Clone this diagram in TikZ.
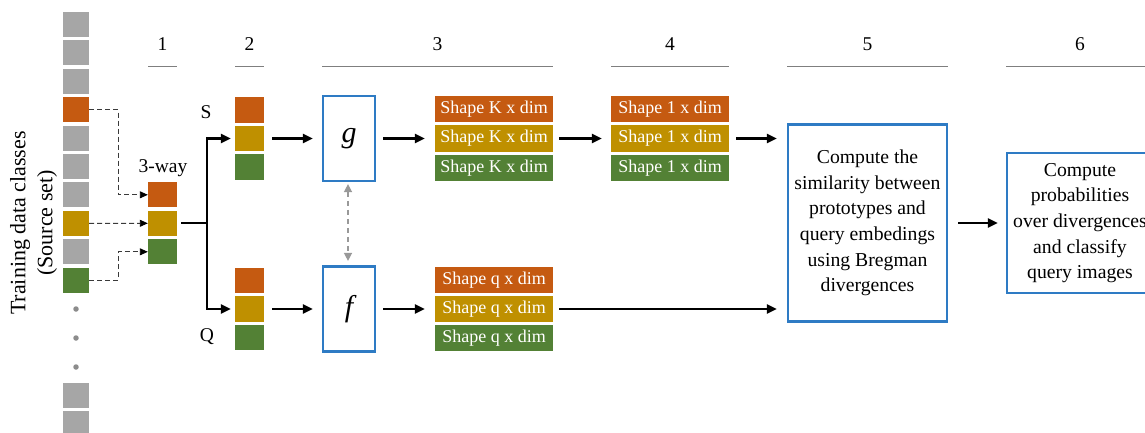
\documentclass[tikz,border=0pt]{standalone}
\usepackage{fontspec}
\setmainfont{Liberation Serif}
\usetikzlibrary{arrows.meta,calc}
\definecolor{cgray}{HTML}{A6A6A6}
\definecolor{corange}{HTML}{C55A11}
\definecolor{cgold}{HTML}{BF9000}
\definecolor{cgreen}{HTML}{538135}
\definecolor{cblue}{HTML}{2E7BC4}
\definecolor{rulegray}{HTML}{7F7F7F}
\definecolor{dotgray}{HTML}{8C8C8C}
\definecolor{dashgray}{HTML}{3A3A3A}
\definecolor{tiegray}{HTML}{999999}
\begin{document}
\begin{tikzpicture}[x=1pt,y=-1pt,
  src/.style={rectangle,inner sep=0pt,minimum width=26pt,minimum height=25pt,fill=cgray},
  sdot/.style={circle,inner sep=0pt,minimum size=5.5pt,fill=dotgray},
  way/.style={rectangle,inner sep=0pt,minimum width=29pt,minimum height=25pt},
  setcell/.style={rectangle,inner sep=0pt,minimum width=29pt,minimum height=25.5pt},
  shp/.style={rectangle,inner sep=0pt,minimum width=118pt,minimum height=26.5pt,
    text=white,font=\fontsize{18}{20}\selectfont},
  net/.style={draw=cblue,line width=2.2pt,minimum width=52pt,minimum height=85pt,
    inner sep=0pt,font=\fontsize{30}{30}\selectfont\itshape},
  stage/.style={draw=cblue,line width=2.2pt,align=center,inner sep=0pt,
    font=\fontsize{19.7}{25.6}\selectfont},
  lbl/.style={font=\fontsize{19.5}{22}\selectfont},
  hdr/.style={font=\fontsize{19.5}{22}\selectfont},
  rulebar/.style={draw=rulegray,line width=1.6pt},
  flow/.style={-{Triangle[length=10pt,width=9pt]},line width=2.3pt},
  pick/.style={draw=dashgray,-{Triangle[length=8pt,width=7pt,fill=black,color=black]},
    line width=0.9pt,dash pattern=on 5pt off 3pt},
  tie/.style={draw=tiegray,{Triangle[length=8pt,width=8pt]}-{Triangle[length=8pt,width=8pt]},
    line width=1.4pt,dash pattern=on 5pt off 4pt}]

\fill[white] (0,0) rectangle (1145,432);
\useasboundingbox (0,0) rectangle (1145,432);

% step numbers and their rules
\node[hdr] (h1) at (162.5,44) {1};
\node[hdr] (h2) at (249.5,44) {2};
\node[hdr] (h3) at (437.5,44) {3};
\node[hdr] (h4) at (670,44) {4};
\node[hdr] (h5) at (867.5,44) {5};
\node[hdr] (h6) at (1080,44) {6};
\draw[rulebar] (148,66.5) -- (177,66.5);
\draw[rulebar] (235,66.5) -- (264,66.5);
\draw[rulebar] (322,66.5) -- (553,66.5);
\draw[rulebar] (611,66.5) -- (729,66.5);
\draw[rulebar] (787,66.5) -- (948,66.5);
\draw[rulebar] (1006,66.5) -- (1145,66.5);

% source classes
\node[rotate=90,align=center,font=\fontsize{22}{27}\selectfont] (srclabel) at (33.5,223)
  {Training data classes\\(Source set)};
\foreach \k/\c in {0/cgray,1/cgray,2/cgray,3/corange,4/cgray,5/cgray,6/cgray,7/cgold,8/cgray,9/cgreen}
  \node[src,fill=\c] (src\k) at (76,24.5+28.4*\k) {};
\node[sdot] (d1) at (76,309) {};
\node[sdot] (d2) at (76,338) {};
\node[sdot] (d3) at (76,367) {};
\node[src] (src10) at (76,395.5) {};
\node[src] (src11) at (76,423.9) {};

% sampled 3-way episode
\node[lbl] (lway) at (163,168) {3-way};
\node[way,fill=corange] (w1) at (162.5,194.8) {};
\node[way,fill=cgold]   (w2) at (162.5,223.3) {};
\node[way,fill=cgreen]  (w3) at (162.5,251.8) {};

\draw[pick] (src3.east) -- ++(29,0) |- (w1.west);
\draw[pick] (src7.east) -- (w2.west);
\draw[pick] (src9.east) -- ++(29,0) |- (w3.west);

% support and query sets
\node[lbl] (lS) at (206,112) {S};
\node[lbl] (lQ) at (207,337) {Q};
\node[setcell,fill=corange] (s1) at (249.5,110) {};
\node[setcell,fill=cgold]   (s2) at (249.5,138.5) {};
\node[setcell,fill=cgreen]  (s3) at (249.5,167) {};
\node[setcell,fill=corange] (q1) at (249.5,280.5) {};
\node[setcell,fill=cgold]   (q2) at (249.5,309) {};
\node[setcell,fill=cgreen]  (q3) at (249.5,337.5) {};

\coordinate (split) at (207,223.3);
\draw[line width=2.3pt] ($(w2.east)+(4,0)$) -- (split);
\draw[flow] (split) |- ($(s2.west)+(-4,0)$);
\draw[flow] (split) |- ($(q2.west)+(-4,0)$);

% embedding networks
\node[net] (g) at (349,138.5) {g};
\node[net] (f) at (349,309) {f};
\draw[flow] ($(s2.east)+(8,0)$) -- ($(g.west)+(-9,0)$);
\draw[flow] ($(q2.east)+(8,0)$) -- ($(f.west)+(-9,0)$);
\draw[tie] ($(g.south)+(-1,2)$) -- ($(f.north)+(-1,-4.5)$);

% embeddings
\node[shp,fill=corange] (k1) at (494,109) {Shape K x dim};
\node[shp,fill=cgold]   (k2) at (494,138.5) {Shape K x dim};
\node[shp,fill=cgreen]  (k3) at (494,168) {Shape K x dim};
\node[shp,fill=corange] (o1) at (670,109) {Shape 1 x dim};
\node[shp,fill=cgold]   (o2) at (670,138.5) {Shape 1 x dim};
\node[shp,fill=cgreen]  (o3) at (670,168) {Shape 1 x dim};
\node[shp,fill=corange] (e1) at (494,280) {Shape q x dim};
\node[shp,fill=cgold]   (e2) at (494,309) {Shape q x dim};
\node[shp,fill=cgreen]  (e3) at (494,338) {Shape q x dim};

\draw[flow] ($(g.east)+(7,0)$) -- ($(k2.west)+(-10,0)$);
\draw[flow] ($(f.east)+(7,0)$) -- ($(e2.west)+(-10,0)$);
\draw[flow] ($(k2.east)+(6,0)$) -- ($(o2.west)+(-9,0)$);

% divergence and classification stages
\node[stage,minimum width=159pt,minimum height=197pt] (sim) at (867.5,223)
  {Compute the\\similarity between\\prototypes and\\query embedings\\using Bregman\\divergences};
\node[stage,minimum width=146pt,minimum height=140pt] (prob) at (1080,223)
  {Compute\\probabilities\\over divergences\\and classify\\query images};

\draw[flow] ($(o2.east)+(7,0)$) -- ($(o2.east -| sim.west)+(-10,0)$);
\draw[flow] ($(e2.east)+(6,0)$) -- ($(e2.east -| sim.west)+(-10,0)$);
\draw[flow] ($(sim.east)+(10,0)$) -- ($(prob.west)+(-8,0)$);
\end{tikzpicture}
\end{document}
